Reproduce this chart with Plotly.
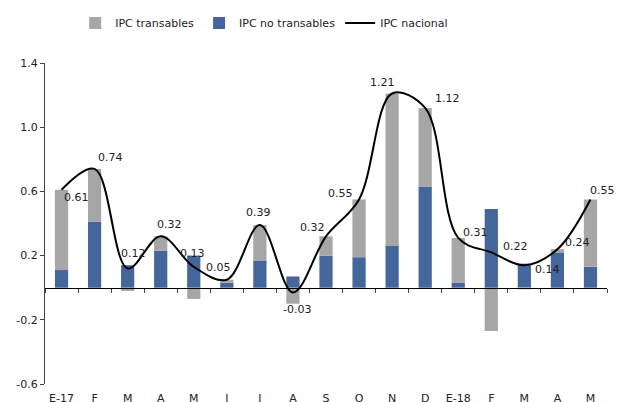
import plotly.graph_objects as go

months = ["E-17", "F", "M", "A", "M", "J", "J", "A", "S", "O", "N", "D",
          "E-18", "F", "M", "A", "M"]
no_transables = [0.11, 0.41, 0.14, 0.23, 0.20, 0.03, 0.17, 0.07, 0.20, 0.19,
                 0.26, 0.63, 0.03, 0.49, 0.15, 0.22, 0.13]
transables = [0.50, 0.33, -0.02, 0.09, -0.07, 0.02, 0.22, -0.10, 0.12, 0.36,
              0.95, 0.49, 0.28, -0.27, -0.01, 0.02, 0.42]
nacional = [0.61, 0.74, 0.12, 0.32, 0.13, 0.05, 0.39, -0.03, 0.32, 0.55,
            1.21, 1.12, 0.31, 0.22, 0.14, 0.24, 0.55]
y_ticks = [-0.6, -0.2, 0.2, 0.6, 1.0, 1.4]

# label offsets (pixels) for the line value labels
label_dx = [15, 16, 6, 9, -1, -8, -1, 4, -14, -19, -10, 22, 17, 24, 23, 20, 12]
label_dy = [-8, 11, 15, 12, 13, 12, 13, -17, 9, 6, 11, 9, 5, 6, -4, 7, 9]

FONT = "DejaVu Sans, Verdana, sans-serif"
x = list(range(len(months)))

fig = go.Figure()
fig.add_trace(go.Bar(x=x, y=no_transables, name="IPC no transables",
                     marker=dict(color="#44669A", line=dict(width=0)),
                     legendrank=2))
fig.add_trace(go.Bar(x=x, y=transables, name="IPC transables",
                     marker=dict(color="#A6A6A6", line=dict(width=0)),
                     legendrank=1))
fig.add_trace(go.Scatter(x=x, y=nacional, name="IPC nacional", mode="lines",
                         line=dict(color="black", width=2, shape="spline",
                                   smoothing=1.0),
                         legendrank=3))
# invisible trace to host the zero-line axis
fig.add_trace(go.Scatter(x=x, y=nacional, xaxis="x2", mode="none",
                         showlegend=False, hoverinfo="skip"))

for xi, v, dx, dy in zip(x, nacional, label_dx, label_dy):
    fig.add_annotation(x=xi, y=v, text=f"{v:.2f}", showarrow=False,
                       xshift=dx, yshift=dy,
                       font=dict(family=FONT, size=11, color="#222"))

# the page body has an 8px margin, so the figure is 8px smaller
fig.update_layout(
    width=616, height=394,
    margin=dict(l=37, r=17, t=55, b=18, autoexpand=False),
    barmode="relative", bargap=0.6,
    plot_bgcolor="white", paper_bgcolor="white",
    font=dict(family=FONT, size=11, color="#222"),
    showlegend=True,
    legend=dict(orientation="h", x=0.39, xanchor="center",
                yref="container", y=0.962, yanchor="middle",
                font=dict(family=FONT, size=11, color="#222"),
                itemwidth=30, bgcolor="rgba(0,0,0,0)"),
    xaxis=dict(range=[-0.5, len(months) - 0.5], tickmode="array",
               tickvals=x, ticktext=months, showline=False, ticks="",
               showgrid=False, zeroline=False, ticklabelstandoff=6,
               automargin=False),
    xaxis2=dict(range=[-0.5, len(months) - 0.5], overlaying="x",
                anchor="free", position=0.3, showline=True,
                linecolor="black", linewidth=1, ticks="outside", ticklen=4,
                tickcolor="#444", tickvals=[i - 0.5 for i in range(len(months) + 1)],
                showticklabels=False, showgrid=False, zeroline=False,
                automargin=False),
    yaxis=dict(range=[-0.6, 1.4], tickmode="array", tickvals=y_ticks,
               ticktext=[f"{t:.1f}" for t in y_ticks], showline=True,
               linecolor="#444", linewidth=1, ticks="outside", ticklen=4,
               tickcolor="#444", showgrid=False, zeroline=False,
               automargin=False),
)

fig.write_html("out.html")
